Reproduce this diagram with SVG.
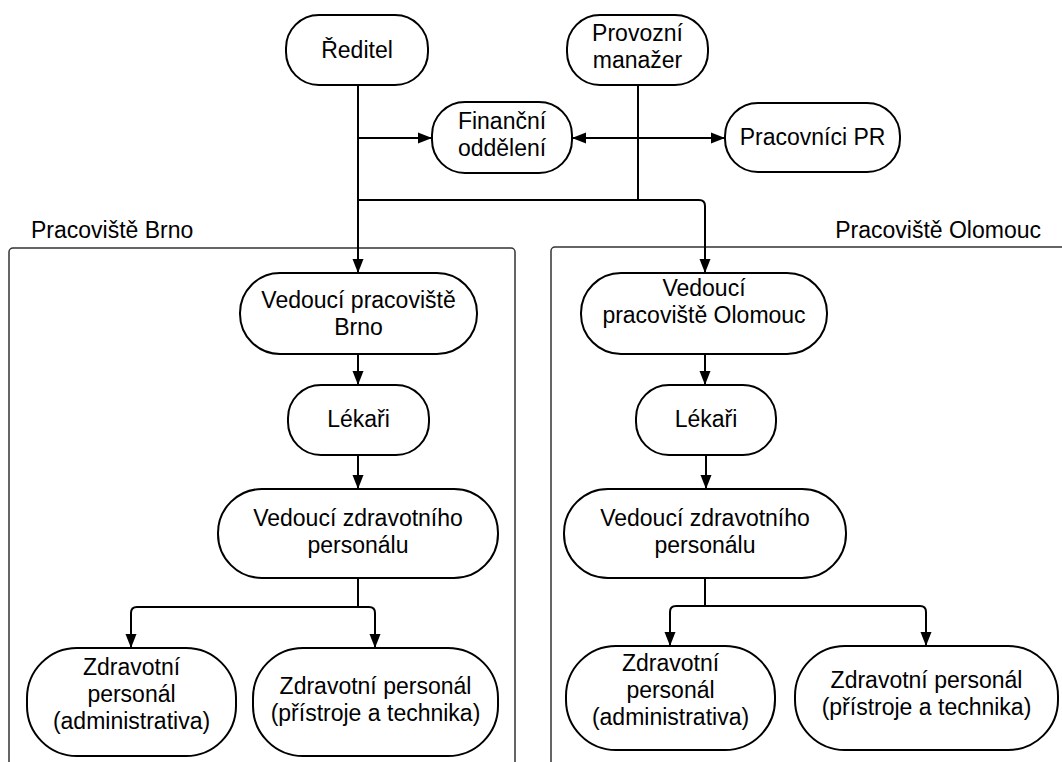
<svg xmlns="http://www.w3.org/2000/svg" width="1062" height="762" viewBox="0 0 1062 762">
<defs>
<marker id="arr" markerUnits="userSpaceOnUse" markerWidth="14" markerHeight="12" refX="14" refY="6" orient="auto">
<path d="M0,0.5 L14,6 L0,11.5 z" fill="#000"/>
</marker>
<style>
.n{fill:#fff;stroke:#000;stroke-width:2}
.t{font-family:"Liberation Sans",Arial,sans-serif;font-size:23px;fill:#000;text-anchor:middle}
.l{font-family:"Liberation Sans",Arial,sans-serif;font-size:23px;fill:#000}
.c{fill:none;stroke:#000;stroke-width:2}
.a{marker-end:url(#arr)}
.box{fill:none;stroke:#333;stroke-width:1.5}
</style>
</defs>
<rect width="1062" height="762" fill="#fff"/>
<g id="containers">
<rect class="box" x="9" y="248" width="506" height="600" rx="4"/>
<rect class="box" x="551" y="247" width="600" height="600" rx="4"/>
<text class="l" x="31" y="238">Pracoviště Brno</text>
<text class="l" x="1041" y="238" text-anchor="end">Pracoviště Olomouc</text>
</g>
<g id="connectors">
<path class="c a" d="M358,85 V273"/>
<path class="c a" d="M358,138 H432"/>
<path class="c a" d="M358,200 H699 Q705,200 705,206 V273"/>
<path class="c" d="M638,85 V200"/>
<path class="c a" d="M638,138 H572"/>
<path class="c a" d="M638,138 H725"/>
<path class="c a" d="M358,354 V385"/>
<path class="c a" d="M358,455 V489"/>
<path class="c a" d="M358,578 V607 H137 Q131,607 131,613 V648"/>
<path class="c a" d="M358,607 H369 Q375,607 375,613 V648"/>
<path class="c a" d="M705,354 V385"/>
<path class="c a" d="M706,455 V489"/>
<path class="c a" d="M705,578 V606 H676 Q670,606 670,612 V646"/>
<path class="c a" d="M705,606 H920 Q926,606 926,612 V646"/>
</g>
<g id="reditel"><rect class="n" x="286" y="15" width="142" height="70" rx="33"/><text class="t" x="357" y="58">Ředitel</text></g>
<g id="provozni"><rect class="n" x="567" y="15" width="141" height="70" rx="33"/><text class="t" x="637.5" y="41">Provozní</text><text class="t" x="637.5" y="68">manažer</text></g>
<g id="financni"><rect class="n" x="432" y="102" width="140" height="71" rx="33"/><text class="t" x="502" y="129">Finanční</text><text class="t" x="502" y="156">oddělení</text></g>
<g id="pr"><rect class="n" x="725" y="103" width="175" height="69" rx="33"/><text class="t" x="812.5" y="145">Pracovníci PR</text></g>
<g id="vedouci-brno"><rect class="n" x="240" y="273" width="237" height="81" rx="40"/><text class="t" x="358.5" y="308">Vedoucí pracoviště</text><text class="t" x="358.5" y="335">Brno</text></g>
<g id="lekari-brno"><rect class="n" x="288" y="385" width="141" height="70" rx="33"/><text class="t" x="358.5" y="427">Lékaři</text></g>
<g id="vzp-brno"><rect class="n" x="218" y="489" width="280" height="89" rx="44"/><text class="t" x="358" y="526">Vedoucí zdravotního</text><text class="t" x="358" y="553">personálu</text></g>
<g id="adm-brno"><rect class="n" x="27" y="648" width="209" height="108" rx="50"/><text class="t" x="131.5" y="675">Zdravotní</text><text class="t" x="131.5" y="702">personál</text><text class="t" x="131.5" y="729">(administrativa)</text></g>
<g id="tech-brno"><rect class="n" x="253" y="648" width="245" height="108" rx="50"/><text class="t" x="375.5" y="694">Zdravotní personál</text><text class="t" x="375.5" y="721">(přístroje a technika)</text></g>
<g id="vedouci-olomouc"><rect class="n" x="581" y="273" width="246" height="81" rx="40"/><text class="t" x="704" y="296">Vedoucí</text><text class="t" x="704" y="323">pracoviště Olomouc</text></g>
<g id="lekari-olomouc"><rect class="n" x="636" y="385" width="140" height="70" rx="33"/><text class="t" x="706" y="427">Lékaři</text></g>
<g id="vzp-olomouc"><rect class="n" x="564" y="489" width="282" height="89" rx="44"/><text class="t" x="705" y="526">Vedoucí zdravotního</text><text class="t" x="705" y="553">personálu</text></g>
<g id="adm-olomouc"><rect class="n" x="566" y="646" width="209" height="104" rx="50"/><text class="t" x="670.5" y="671">Zdravotní</text><text class="t" x="670.5" y="698">personál</text><text class="t" x="670.5" y="725">(administrativa)</text></g>
<g id="tech-olomouc"><rect class="n" x="795" y="646" width="263" height="104" rx="50"/><text class="t" x="926.5" y="688">Zdravotní personál</text><text class="t" x="926.5" y="715">(přístroje a technika)</text></g>
</svg>
